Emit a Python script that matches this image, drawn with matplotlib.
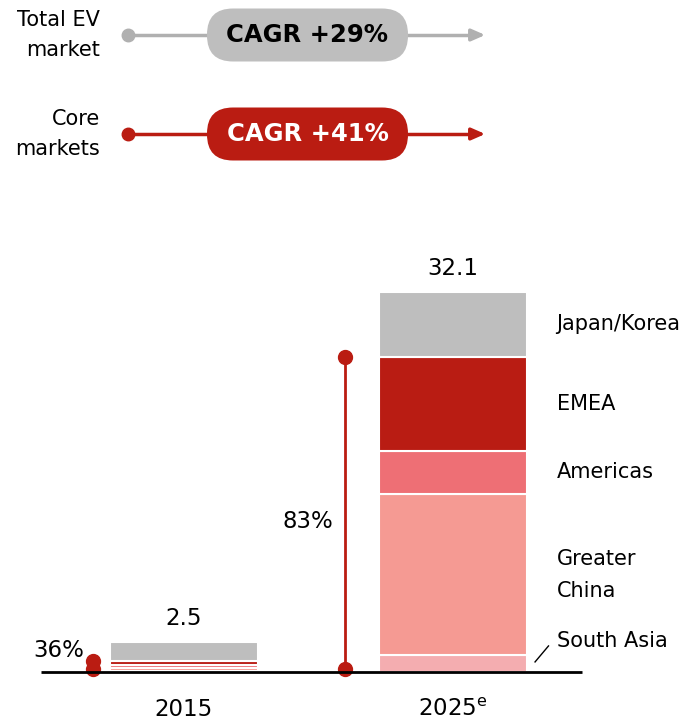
import numpy as np
import matplotlib
matplotlib.use('Agg')
import matplotlib.pyplot as plt
from matplotlib.patches import FancyBboxPatch

plt.rcParams['font.family'] = ['DejaVu Sans']

### data
years    = ['2015', '2025$^{\\mathrm{e}}$']
regions  = ['South Asia', 'Greater\nChina', 'Americas', 'EMEA', 'Japan/Korea']
vals2015 = [0.05, 0.30, 0.20, 0.35, 1.60]
vals2025 = [1.4, 13.6, 3.7, 7.9, 5.5]
totals   = [2.5, 32.1]
core_pct = ['36%', '83%']
cagr     = ['CAGR +29%', 'CAGR +41%']
series   = ['Total EV\nmarket', 'Core\nmarkets']

colors = ['#F4ADB0', '#F59A93', '#EE6F75', '#B91C13', '#BEBEBE']
RED  = '#BA1C12'
GREY = '#B0B0B0'

W, H = 696, 725
fig = plt.figure(figsize=(W/100, H/100), dpi=100)

### main chart (y=0 at px 672, 11.84 px per unit)
ppu = 11.84
ax = fig.add_axes([0, 0, 1, 1])
ax.set_ylim((672-H)/ppu, 672/ppu)
ax.set_xlim(-184/269, (W-184)/269)
ax.axis('off')

x = np.arange(len(years))
bw = 0.55
data = np.array([vals2015, vals2025])
bottom = np.zeros(2)
for i, c in enumerate(colors):
    ax.bar(x, data[:, i], bw, bottom=bottom, color=c, edgecolor='white', linewidth=1.5)
    bottom += data[:, i]

ax.plot([-0.53, 1.48], [0, 0], color='black', lw=2, solid_capstyle='butt', zorder=5)

fs = 16.5
for xi, t in zip(x, totals):
    ax.text(xi, t + 2.0, f'{t}', ha='center', va='center', fontsize=fs)
for xi, y in zip(x, years):
    ax.text(xi, -3.2, y, ha='center', va='center', fontsize=fs)

# core share markers
core = data[:, :4].sum(axis=1)
ax.plot([-0.34, -0.34], [0.25, core[0]], color=RED, lw=2)
ax.plot([-0.34, -0.34], [0.25, core[0]], 'o', color=RED, ms=10)
ax.text(-0.37, core[0] + 0.9, core_pct[0], ha='right', va='center', fontsize=fs)
ax.plot([0.598, 0.598], [0.25, core[1]], color=RED, lw=2)
ax.plot([0.598, 0.598], [0.25, core[1]], 'o', color=RED, ms=10)
ax.text(0.46, 12.7, core_pct[1], ha='center', va='center', fontsize=fs)

# region labels
lx = 1.385
cum = np.cumsum(vals2025) - np.array(vals2025)/2
for r, yc in zip(regions, cum):
    if r == 'South Asia':
        ax.text(lx, 2.6, r, ha='left', va='center', fontsize=15)
        ax.plot([1.305, 1.355], [0.85, 2.2], color='black', lw=1)
    else:
        ax.text(lx, yc, r, ha='left', va='center', fontsize=15, linespacing=1.75)

### legend on top (pixel coords)
lg = fig.add_axes([0, 0, 1, 1])
lg.set_xlim(0, W)
lg.set_ylim(H, 0)
lg.axis('off')
for yc, lab, txt, col, fg in [(35, series[0], cagr[0], GREY, 'black'),
                              (134, series[1], cagr[1], RED, 'white')]:
    lg.text(100, yc, lab, ha='right', va='center', fontsize=15, linespacing=1.6)
    lg.plot([128, 474], [yc, yc], color=col, lw=2.5, zorder=1)
    lg.plot(128, yc, 'o', color=col, ms=9, zorder=2)
    lg.annotate('', xy=(488, yc), xytext=(472, yc),
                arrowprops=dict(arrowstyle='-|>,head_length=0.8,head_width=0.35', color=col, lw=2.5))
    lg.add_patch(FancyBboxPatch((207, yc-26.5), 201, 53, boxstyle='round,pad=0,rounding_size=26',
                                fc='#BEBEBE' if fg == 'black' else RED, ec='none', zorder=3))
    lg.text(307.5, yc, txt, ha='center', va='center', fontsize=17.5, fontweight='bold', color=fg, zorder=4)

fig.savefig('out.png', dpi=100)
